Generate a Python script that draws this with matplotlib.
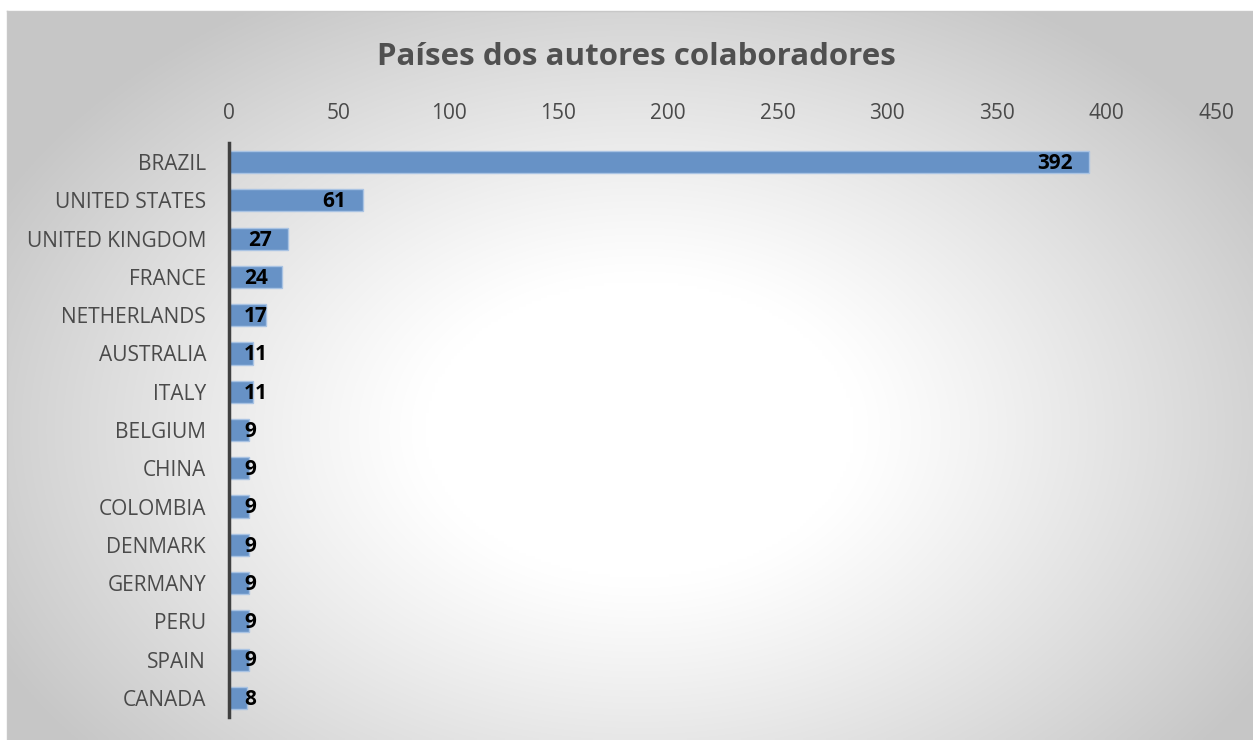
import numpy as np
import matplotlib
matplotlib.use('Agg')
from matplotlib import pyplot as plt

plt.rcParams['font.family'] = ['Open Sans', 'DejaVu Sans']

countries = ['BRAZIL', 'UNITED STATES', 'UNITED KINGDOM', 'FRANCE', 'NETHERLANDS',
             'AUSTRALIA', 'ITALY', 'BELGIUM', 'CHINA', 'COLOMBIA', 'DENMARK',
             'GERMANY', 'PERU', 'SPAIN', 'CANADA']
counts = [392, 61, 27, 24, 17, 11, 11, 9, 9, 9, 9, 9, 9, 9, 8]
x_ticks = [0, 50, 100, 150, 200, 250, 300, 350, 400, 450]
title = 'Países dos autores colaboradores'

W, H = 1253, 740
fig = plt.figure(figsize=(W / 100, H / 100), dpi=100, facecolor='white')

# chart area background with radial gradient
bg = fig.add_axes([7 / W, 0, 1 - 7 / W, (H - 11) / H])
gx, gy = np.meshgrid(np.linspace(7, W, 400), np.linspace(11, H, 240))
r = np.sqrt(((gx - 640) / 720.0) ** 2 + ((gy - 430) / 500.0) ** 2)
g = 1.0 - 0.22 * np.clip((r - 0.3) / 0.7, 0, 1) ** 1.1
bg.imshow(np.dstack([g, g, g]), aspect='auto', extent=[0, 1, 0, 1], interpolation='bilinear')
bg.set_xlim(0, 1)
bg.set_ylim(0, 1)
bg.set_xticks([])
bg.set_yticks([])
for s in ['right', 'bottom']:
    bg.spines[s].set_visible(False)
for s in ['top', 'left']:
    bg.spines[s].set_color('#c8c8c8')
    bg.spines[s].set_linewidth(1)

ax_l, ax_r, ax_t, ax_b = 229, 1216.5, 143, 717
ax = fig.add_axes([ax_l / W, (H - ax_b) / H, (ax_r - ax_l) / W, (ax_b - ax_t) / H])
ax.patch.set_alpha(0)

y = np.arange(len(countries))
ax.barh(y, counts, height=0.58, color='#6792c6', edgecolor='#a9c3e3', linewidth=1, zorder=2)
ax.set_xlim(0, 450)
ax.set_ylim(len(countries) - 0.5, -0.5)
ax.set_yticks(y)
ax.set_yticklabels(countries)
ax.set_xticks(x_ticks)
ax.xaxis.tick_top()
ax.tick_params(axis='x', length=0, pad=14, labelsize=15, labelcolor='#4a4a4a')
ax.tick_params(axis='y', length=0, pad=16.5, labelsize=15, labelcolor='#4a4a4a')
for s in ['top', 'right', 'bottom']:
    ax.spines[s].set_visible(False)
ax.spines['left'].set_color('#404040')
ax.spines['left'].set_linewidth(2.5)
ax.spines['left'].set_zorder(3)

fig.text(636 / W, 1 - 57 / H, title, ha='center', va='center', fontsize=22.5,
         fontweight='bold', color='#505050')

# value labels: inside end, but never left of the axis margin
fig.canvas.draw()
renderer = fig.canvas.get_renderer()
for yi, v in zip(y, counts):
    t = ax.annotate(str(v), (v, yi), xytext=(-12, -1), textcoords='offset points',
                    ha='right', va='center', fontsize=15, fontweight='bold', color='black', zorder=4)
    bb = t.get_window_extent(renderer)
    if bb.x0 < ax_l + 15:
        t.remove()
        ax.annotate(str(v), (0, yi), xytext=(10.8, -1), textcoords='offset points',
                    ha='left', va='center', fontsize=15, fontweight='bold', color='black', zorder=4)

fig.savefig('out.png', dpi=100, facecolor='white')
